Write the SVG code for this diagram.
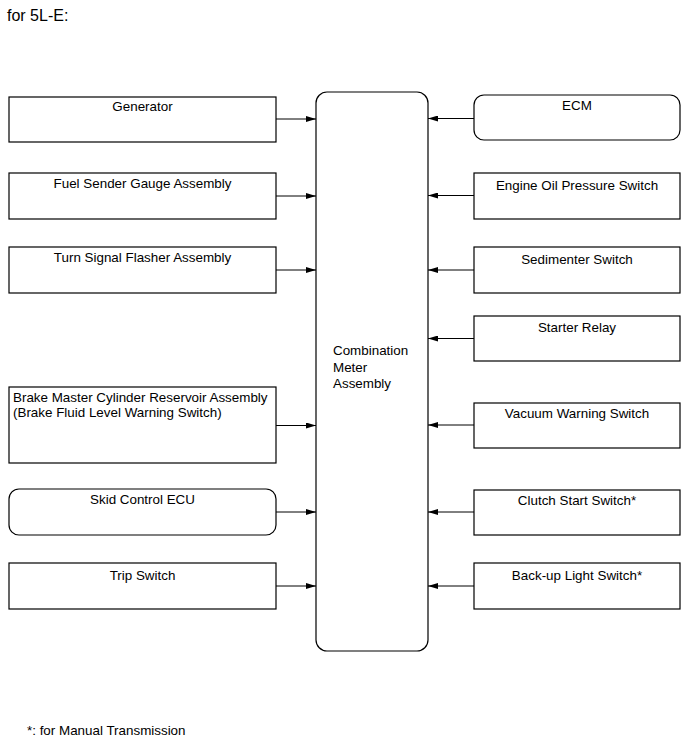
<svg xmlns="http://www.w3.org/2000/svg" width="690" height="756" viewBox="0 0 690 756">
<style>
.box{fill:#fff;stroke:#000;stroke-width:1.2}
.t{font-family:"Liberation Sans",Arial,sans-serif;font-size:13.4px;fill:#000}
.c{text-anchor:middle}
.wire{stroke:#000;stroke-width:1;fill:none;marker-end:url(#ah)}
</style>
<defs>
<marker id="ah" viewBox="0 0 10 6" refX="10" refY="3" markerWidth="10" markerHeight="6" markerUnits="userSpaceOnUse" orient="auto">
<path d="M0,0 L10,3 L0,6 z" fill="#000"/>
</marker>
</defs>
<rect width="690" height="756" fill="#fff"/>
<text class="t" x="7" y="21" style="font-size:16px">for 5L-E:</text>

<g id="meter"><rect class="box" x="316" y="92" width="112" height="559" rx="11"/>
<text class="t" x="333" y="355">Combination</text><text class="t" x="333" y="372">Meter</text><text class="t" x="333" y="388">Assembly</text></g>

<g id="generator"><rect class="box" x="9" y="97" width="267" height="45"/><text class="t c" x="142.5" y="111">Generator</text></g>
<g id="fuel"><rect class="box" x="9" y="173" width="267" height="46"/><text class="t c" x="142.5" y="188">Fuel Sender Gauge Assembly</text></g>
<g id="turn"><rect class="box" x="9" y="247" width="267" height="46"/><text class="t c" x="142.5" y="262">Turn Signal Flasher Assembly</text></g>
<g id="brake"><rect class="box" x="9" y="387" width="267" height="76"/><text class="t" x="13" y="402">Brake Master Cylinder Reservoir Assembly</text><text class="t" x="13" y="417">(Brake Fluid Level Warning Switch)</text></g>
<g id="skid"><rect class="box" x="9" y="489" width="267" height="46" rx="10"/><text class="t c" x="142.5" y="504">Skid Control ECU</text></g>
<g id="trip"><rect class="box" x="9" y="563" width="267" height="46"/><text class="t c" x="142.5" y="580">Trip Switch</text></g>

<g id="ecm"><rect class="box" x="474" y="95" width="206" height="45" rx="10"/><text class="t c" x="577" y="110">ECM</text></g>
<g id="oil"><rect class="box" x="474" y="173" width="206" height="46"/><text class="t c" x="577" y="190">Engine Oil Pressure Switch</text></g>
<g id="sedimenter"><rect class="box" x="474" y="247" width="206" height="46"/><text class="t c" x="577" y="264">Sedimenter Switch</text></g>
<g id="starter"><rect class="box" x="474" y="316" width="206" height="45"/><text class="t c" x="577" y="332">Starter Relay</text></g>
<g id="vacuum"><rect class="box" x="474" y="403" width="206" height="45"/><text class="t c" x="577" y="418">Vacuum Warning Switch</text></g>
<g id="clutch"><rect class="box" x="474" y="490" width="206" height="45"/><text class="t c" x="577" y="505">Clutch Start Switch*</text></g>
<g id="backup"><rect class="box" x="474" y="563" width="206" height="46"/><text class="t c" x="577" y="580">Back-up Light Switch*</text></g>

<g id="connectors">
<line class="wire" x1="276" y1="119" x2="316" y2="119"/>
<line class="wire" x1="276" y1="196" x2="316" y2="196"/>
<line class="wire" x1="276" y1="270" x2="316" y2="270"/>
<line class="wire" x1="276" y1="425.5" x2="316" y2="425.5"/>
<line class="wire" x1="276" y1="512" x2="316" y2="512"/>
<line class="wire" x1="276" y1="586" x2="316" y2="586"/>
<line class="wire" x1="474" y1="118.5" x2="428" y2="118.5"/>
<line class="wire" x1="474" y1="195.5" x2="428" y2="195.5"/>
<line class="wire" x1="474" y1="270" x2="428" y2="270"/>
<line class="wire" x1="474" y1="338.5" x2="428" y2="338.5"/>
<line class="wire" x1="474" y1="425" x2="428" y2="425"/>
<line class="wire" x1="474" y1="512" x2="428" y2="512"/>
<line class="wire" x1="474" y1="586" x2="428" y2="586"/>
</g>

<text class="t" x="27" y="735">*: for Manual Transmission</text>
</svg>
